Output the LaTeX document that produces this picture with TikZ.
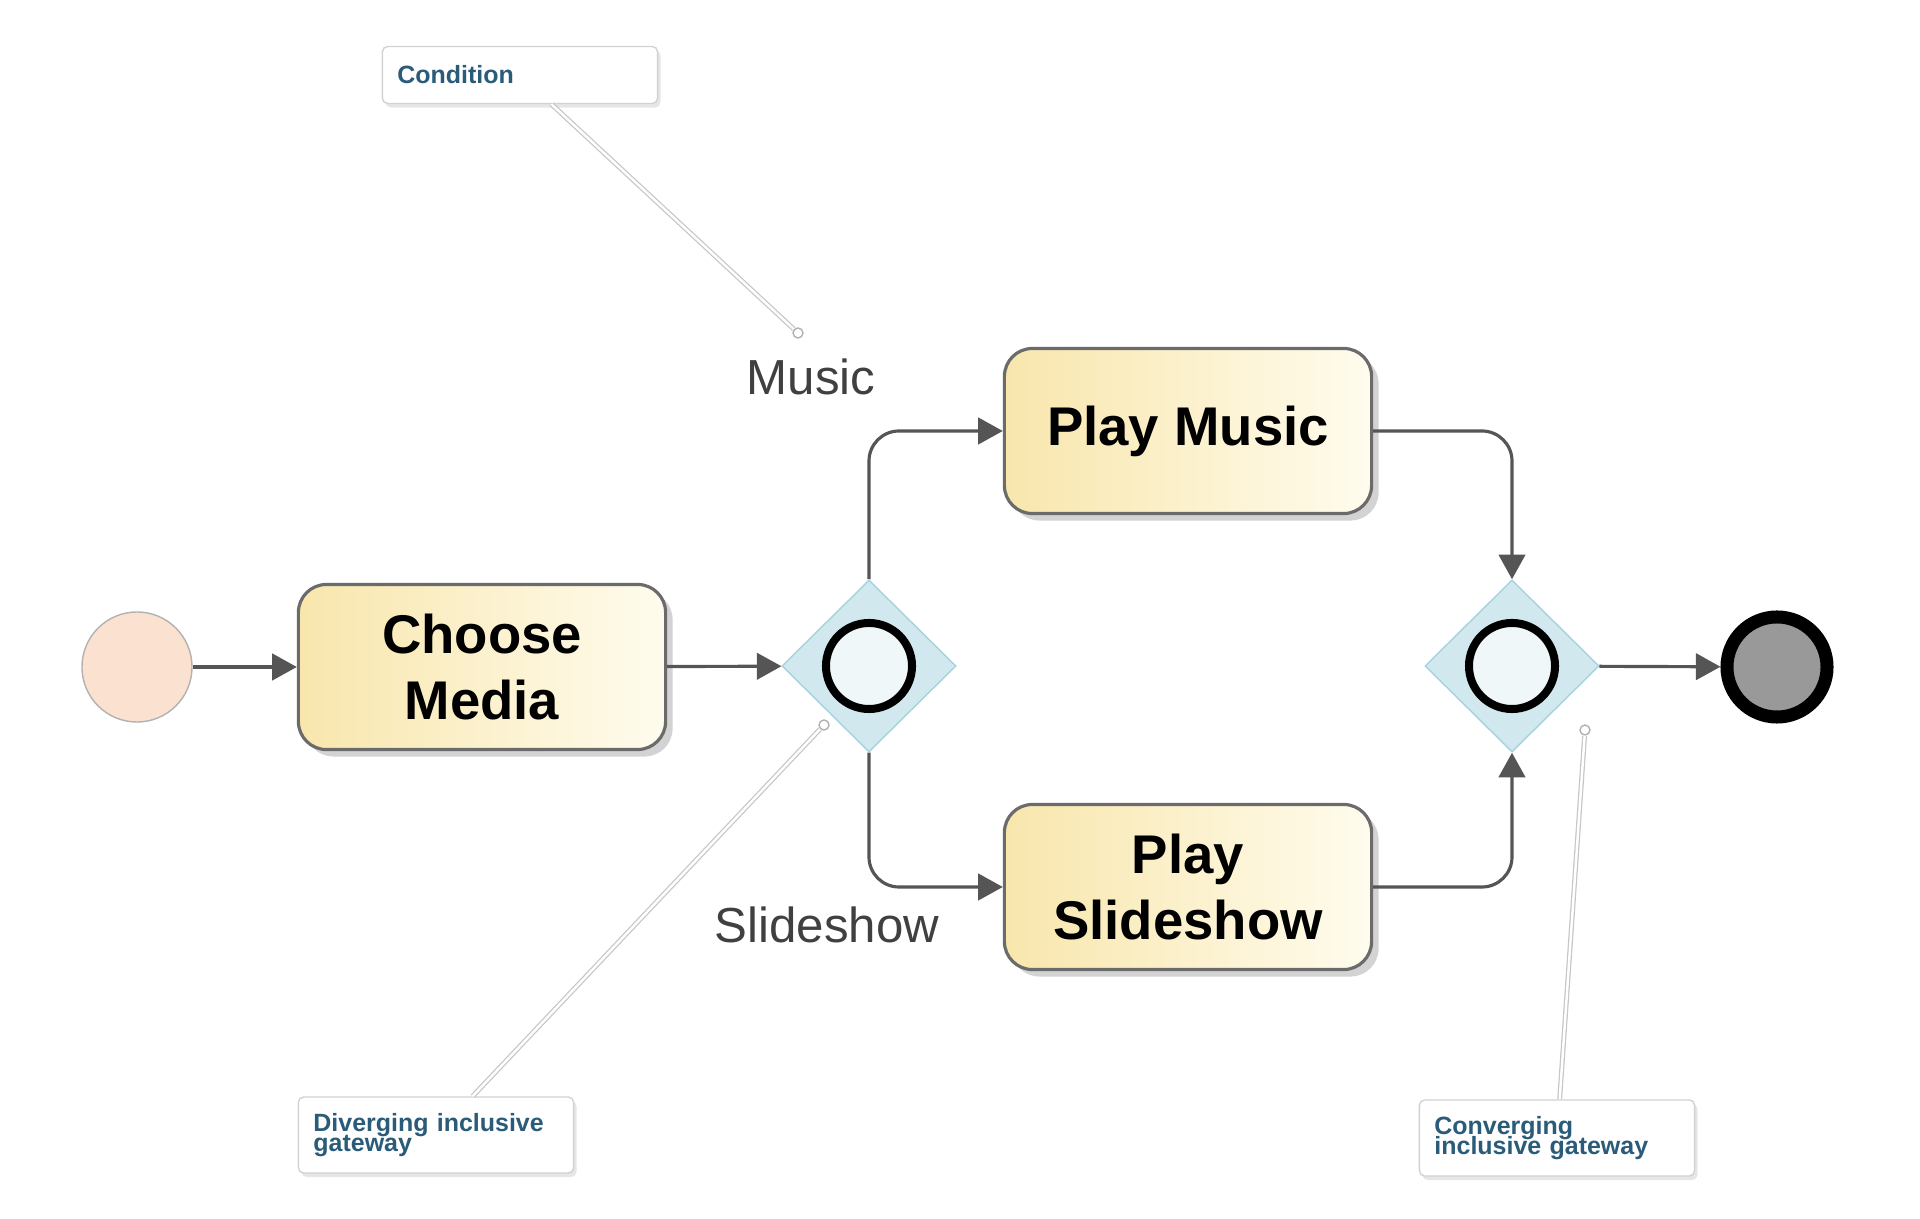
\documentclass[tikz,border=0pt]{standalone}
\usepackage{fontspec}
\setmainfont{Liberation Sans}
\usetikzlibrary{arrows.meta,shapes.geometric,shadows}
\definecolor{taskleft}{HTML}{F8E6AC}
\definecolor{taskright}{HTML}{FFFCEE}
\definecolor{taskline}{HTML}{6B6B6B}
\definecolor{gwfill}{HTML}{D2E8EF}
\definecolor{gwline}{HTML}{A6D2DE}
\definecolor{startfill}{HTML}{FBE1CF}
\definecolor{flowgray}{HTML}{555555}
\definecolor{notetext}{HTML}{2A5C7A}
\newcommand{\notefont}{\bfseries\fontsize{7.1}{5.7}\selectfont\lineskiplimit=-5pt\relax}

\begin{document}
\begin{tikzpicture}[x=0.01cm,y=-0.01cm,
  every node/.style={align=center},
  task/.style={draw=taskline,line width=0.9pt,rounded corners=0.28cm,left color=taskleft,right color=taskright,
    minimum width=3.67cm,minimum height=1.65cm,font=\bfseries\fontsize{15.5}{18.5}\selectfont,
    drop shadow={opacity=0.35,shadow xshift=0.07cm,shadow yshift=-0.07cm}},
  gateway/.style={diamond,draw=gwline,fill=gwfill,minimum width=1.74cm,minimum height=1.72cm,inner sep=0pt},
  ring/.style={circle,draw=black,line width=0.08cm,fill=gwfill!35,minimum size=0.86cm,inner sep=0pt},
  startevent/.style={circle,draw=gray!60,fill=startfill,minimum size=1.1cm,inner sep=0pt},
  endevent/.style={circle,draw=black,line width=0.13cm,fill=gray!80,minimum size=1.0cm,inner sep=0pt},
  flow/.style={draw=flowgray,line width=0.9pt,-{Triangle[length=7pt,width=7.5pt]},rounded corners=0.3cm},
  condtext/.style={text=black!75,font=\fontsize{14}{16}\selectfont},
  note/.style={draw=gray!35,fill=white,rounded corners=1.5pt,text width=2.45cm,align=left,inner xsep=0.15cm,
    font=\notefont,text=notetext,
    drop shadow={opacity=0.2,shadow xshift=0.03cm,shadow yshift=-0.04cm}},
  noteline/.style={draw=gray!45,double=white,double distance=0.7pt,line width=0.35pt},
  notepin/.style={circle,draw=gray!60,fill=white,minimum size=0.1cm,inner sep=0pt,line width=0.4pt}]

  \useasboundingbox (0,0) rectangle (1920,1219);

  % Process nodes
  \node[startevent] (start) at (137,667) {};
  \node[task] (choose) at (482,667) {Choose\\Media};
  \node[gateway] (split) at (869,666) {};
  \node[ring] (splitring) at (split) {};
  \node[task] (music) at (1188,431) {Play Music};
  \node[task] (slides) at (1188,887) {Play\\Slideshow};
  \node[gateway] (join) at (1512,666) {};
  \node[ring] (joinring) at (join) {};
  \node[endevent] (stop) at (1777,667) {};

  % Conditions on the outgoing flows
  \node[condtext] (musiclbl) at (811,377) {Music};
  \node[condtext] (slideslbl) at (827,925) {Slideshow};

  % Sequence flows
  \draw[flow] (start) -- (choose);
  \draw[flow] (choose) -- (split);
  \draw[flow] (split.north) |- (music);
  \draw[flow] (split.south) |- (slides);
  \draw[flow] (music) -| (join.north);
  \draw[flow] (slides) -| (join.south);
  \draw[flow] (join) -- (stop);

  % Annotations
  \node[note,minimum height=0.57cm] (condnote) at (520,75) {Condition};
  \node[notepin] (condpin) at (798,333) {};
  \node[note,minimum height=0.76cm] (divnote) at (436,1135) {Diverging inclusive\\gateway};
  \node[notepin] (divpin) at (824,725) {};
  \node[note,minimum height=0.76cm] (convnote) at (1557,1138) {Converging\\inclusive gateway};
  \node[notepin] (convpin) at (1585,730) {};
  \draw[noteline] (condnote) -- (condpin);
  \draw[noteline] (divnote) -- (divpin);
  \draw[noteline] (convnote) -- (convpin);
\end{tikzpicture}
\end{document}
